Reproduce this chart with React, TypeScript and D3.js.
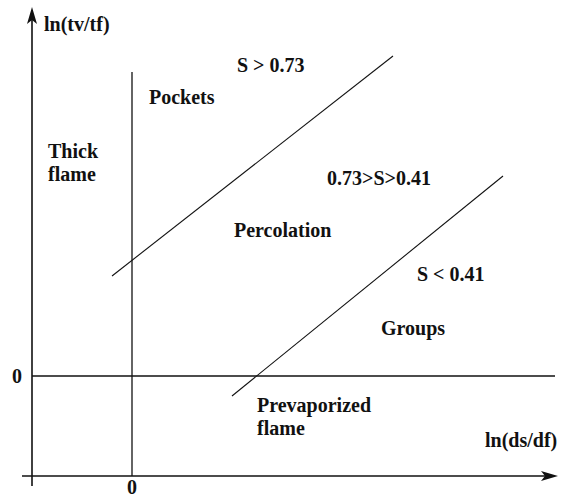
import React from "react";
import * as d3 from "d3";

// regime diagram in (ln(ds/df), ln(tv/tf)) space, arbitrary units
const xDomain = [-1, 4.26];
const yDomain = [-1, 3.69];

const boundaryLines = [
  { id: "S073", x1: -0.2, y1: 1.0, x2: 2.61, y2: 3.2 },
  { id: "S041", x1: 1.0, y1: -0.2, x2: 3.71, y2: 2.0 },
];

const regionLabels = [
  { lines: ["S > 0.73"], x: 1.05, y: 3.04 },
  { lines: ["Pockets"], x: 0.17, y: 2.72 },
  { lines: ["Thick", "flame"], x: -0.84, y: 2.18 },
  { lines: ["0.73>S>0.41"], x: 1.95, y: 1.91 },
  { lines: ["Percolation"], x: 1.02, y: 1.39 },
  { lines: ["S < 0.41"], x: 2.85, y: 0.95 },
  { lines: ["Groups"], x: 2.49, y: 0.41 },
  { lines: ["Prevaporized", "flame"], x: 1.25, y: -0.36 },
];

const axisTitles = { x: "ln(ds/df)", y: "ln(tv/tf)" };
const zeroTick = "0";

const W = 564;
const H = 498;

export default function App() {
  const x = d3.scaleLinear().domain(xDomain).range([32, 558]);
  const y = d3.scaleLinear().domain(yDomain).range([476, 7]);
  const font = "Liberation Serif";
  const ink = "#111";

  const x0 = x(0);
  const y0 = y(0);
  const left = x(xDomain[0]);
  const bottom = y(yDomain[0]);
  const right = x(xDomain[1]);
  const top = y(yDomain[1]);

  const arrowUp = `M${left},${top} L${left - 5},${top + 17} L${left},${top + 13} L${left + 5},${top + 17} Z`;
  const arrowRight = `M${right},${bottom} L${right - 17},${bottom - 5} L${right - 13},${bottom} L${right - 17},${bottom + 5} Z`;

  return (
    <svg
      width={W}
      height={H}
      style={{ position: "absolute", left: 0, top: 0, background: "#fff" }}
    >
      {/* axes */}
      <line x1={left} y1={top + 6} x2={left} y2={bottom + 10} stroke={ink} strokeWidth={1.6} />
      <line x1={left - 10} y1={bottom} x2={right - 6} y2={bottom} stroke={ink} strokeWidth={1.6} />
      <path d={arrowUp} fill={ink} />
      <path d={arrowRight} fill={ink} />

      {/* zero lines */}
      <line x1={left} y1={y0} x2={x(4.23)} y2={y0} stroke={ink} strokeWidth={1.3} />
      <line x1={x0} y1={y(3.04)} x2={x0} y2={bottom} stroke={ink} strokeWidth={1.3} />

      {/* regime boundaries */}
      {boundaryLines.map((l) => (
        <line
          key={l.id}
          x1={x(l.x1)}
          y1={y(l.y1)}
          x2={x(l.x2)}
          y2={y(l.y2)}
          stroke={ink}
          strokeWidth={1.1}
        />
      ))}

      <g style={{ fontFamily: font, fontWeight: 700, fontSize: 20 }} fill={ink}>
        {regionLabels.map((d) => (
          <text key={d.lines[0]} x={x(d.x)} y={y(d.y)}>
            {d.lines.map((t, i) => (
              <tspan key={t} x={x(d.x)} dy={i === 0 ? 0 : 23}>
                {t}
              </tspan>
            ))}
          </text>
        ))}
        <text x={44} y={31}>{axisTitles.y}</text>
        <text x={485} y={447}>{axisTitles.x}</text>
        <text x={12} y={383}>{zeroTick}</text>
        <text x={x0} y={494} textAnchor="middle">{zeroTick}</text>
      </g>
    </svg>
  );
}
